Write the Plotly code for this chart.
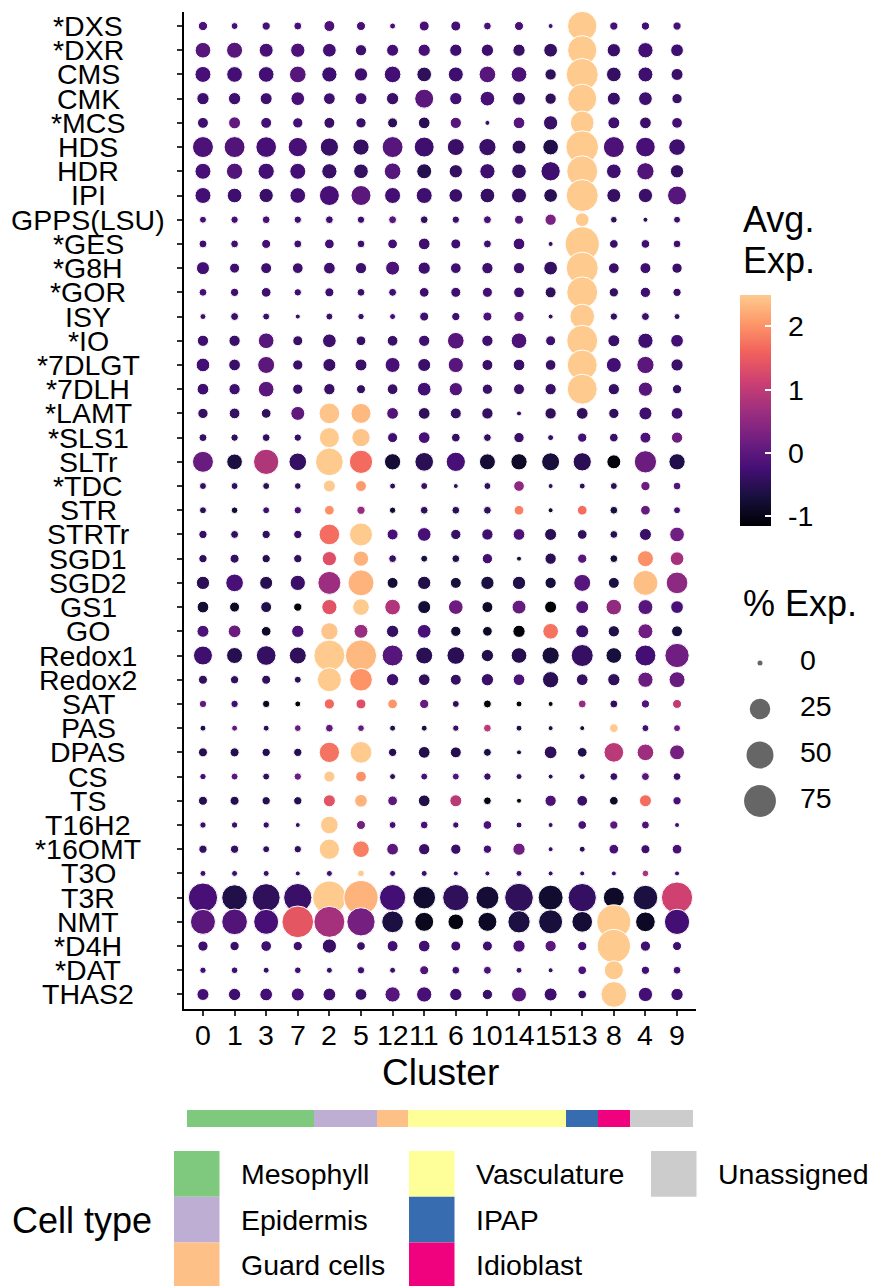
import numpy as np
import plotly.graph_objects as go

W, H = 873, 1286
FONT = "Liberation Sans, Arial, sans-serif"

GENES = ["*DXS", "*DXR", "CMS", "CMK", "*MCS", "HDS", "HDR", "IPI", "GPPS(LSU)", "*GES",
         "*G8H", "*GOR", "ISY", "*IO", "*7DLGT", "*7DLH", "*LAMT", "*SLS1", "SLTr", "*TDC",
         "STR", "STRTr", "SGD1", "SGD2", "GS1", "GO", "Redox1", "Redox2", "SAT", "PAS",
         "DPAS", "CS", "TS", "T16H2", "*16OMT", "T3O", "T3R", "NMT", "*D4H", "*DAT", "THAS2"]

CLUSTERS = ["0", "1", "3", "7", "2", "5", "12", "11", "6", "10", "14", "15", "13", "8", "4", "9"]

CELL_TYPES = ["Mesophyll", "Epidermis", "Guard cells", "Vasculature", "IPAP", "Idioblast", "Unassigned"]
CELL_TYPE_COLORS = ["#7FC97F", "#BEAED4", "#FDC086", "#FFFF99", "#386CB0", "#F0027F", "#CCCCCC"]
CLUSTER_CELL_TYPE = ["Mesophyll"] * 4 + ["Epidermis"] * 2 + ["Guard cells"] + ["Vasculature"] * 5 + \
                    ["IPAP", "Idioblast", "Unassigned", "Unassigned"]

# average (scaled) expression, one row per gene, columns follow CLUSTERS
AVG_EXP = [
    [-0.15, -0.2, -0.2, -0.2, -0.15, -0.2, -0.2, -0.2, -0.25, -0.2, -0.2, -0.25, 2.5, -0.2, -0.25, -0.2],
    [-0.05, -0.05, -0.2, -0.15, -0.25, -0.3, -0.25, -0.2, -0.3, -0.3, -0.35, -0.4, 2.5, -0.35, -0.25, -0.3],
    [-0.2, -0.25, -0.25, -0.05, -0.3, -0.3, -0.25, -0.45, -0.3, -0.05, -0.15, -0.45, 2.5, -0.4, -0.3, -0.35],
    [-0.3, -0.3, -0.3, -0.2, -0.3, -0.25, -0.35, 0.0, -0.25, -0.2, -0.35, -0.45, 2.5, -0.35, -0.3, -0.35],
    [-0.3, 0.05, -0.25, -0.25, -0.35, -0.35, -0.5, -0.5, -0.05, -0.4, -0.05, -0.35, 2.5, -0.3, -0.35, -0.25],
    [-0.15, -0.1, -0.2, -0.2, -0.35, -0.4, -0.05, -0.3, -0.35, -0.35, -0.45, -0.6, 2.5, -0.15, -0.2, -0.3],
    [-0.2, -0.1, -0.25, -0.25, -0.35, -0.4, -0.05, -0.55, -0.4, -0.3, -0.4, -0.3, 2.5, -0.3, -0.1, -0.4],
    [-0.25, -0.3, -0.35, -0.25, -0.2, 0.0, -0.25, -0.3, -0.35, -0.4, -0.4, -0.5, 2.5, -0.4, -0.35, -0.05],
    [-0.25, -0.25, -0.2, -0.3, -0.3, -0.3, -0.05, -0.45, -0.35, -0.2, -0.1, 0.3, 2.5, -0.45, -0.5, -0.35],
    [-0.3, -0.3, -0.25, -0.3, -0.25, -0.3, -0.25, -0.3, -0.3, -0.3, -0.25, -0.4, 2.5, -0.35, -0.3, -0.3],
    [-0.25, -0.3, -0.3, -0.3, -0.3, -0.3, -0.15, -0.3, -0.3, -0.3, -0.3, -0.4, 2.5, -0.35, -0.3, -0.35],
    [-0.25, -0.3, -0.3, -0.3, -0.3, -0.35, -0.3, -0.3, -0.3, -0.25, -0.3, -0.45, 2.5, -0.4, -0.3, -0.35],
    [-0.3, -0.35, -0.35, -0.35, -0.35, -0.35, -0.25, -0.3, -0.3, -0.15, -0.05, -0.4, 2.5, -0.4, -0.35, -0.4],
    [-0.3, -0.35, -0.05, -0.35, -0.3, -0.4, -0.35, -0.3, -0.05, -0.3, -0.15, -0.3, 2.5, -0.35, -0.3, -0.25],
    [-0.25, -0.35, 0.0, -0.35, -0.35, -0.35, -0.2, -0.35, -0.05, -0.35, -0.35, -0.35, 2.5, -0.25, 0.0, -0.35],
    [-0.3, -0.3, 0.0, -0.35, -0.35, -0.4, -0.35, -0.25, -0.1, -0.35, -0.35, -0.35, 2.5, -0.4, -0.05, -0.4],
    [-0.4, -0.4, -0.45, 0.05, 2.45, 2.35, -0.1, -0.45, -0.4, -0.4, -0.45, -0.45, -0.45, -0.45, -0.3, -0.3],
    [-0.4, -0.45, -0.45, -0.4, 2.5, 2.45, -0.3, -0.2, -0.4, -0.45, -0.35, -0.4, -0.25, -0.35, -0.15, 0.17],
    [0.13, -0.67, 0.85, -0.4, 2.5, 1.67, -0.76, -0.5, -0.2, -0.75, -0.85, -0.7, -0.5, -1.1, 0.15, -0.6],
    [-0.45, -0.45, -0.5, -0.45, 2.5, 2.08, -0.5, -0.4, -0.45, -0.45, 0.5, -0.45, -0.45, -0.5, 0.15, -0.1],
    [-0.5, -0.75, -0.3, -0.2, 1.99, 0.6, -0.8, -0.45, -0.5, -0.45, 1.87, -0.85, 1.7, -0.7, 0.1, -0.3],
    [-0.4, -0.45, -0.45, -0.4, 1.7, 2.5, -0.2, -0.2, -0.4, -0.3, -0.15, -0.5, -0.45, -0.55, -0.35, 0.2],
    [-0.45, -0.4, -0.55, -0.45, 1.35, 2.28, -0.4, -0.7, -0.6, -0.25, -0.75, -0.5, -0.05, -0.75, 1.99, 0.74],
    [-0.5, -0.2, -0.55, -0.35, 0.66, 2.3, -0.75, -0.6, -0.7, -0.65, -0.6, -0.7, -0.05, -0.65, 2.4, 0.5],
    [-0.75, -0.9, -0.6, -1.1, 1.4, 2.5, 0.86, -0.75, 0.17, -0.85, 0.1, -1.15, -0.1, 0.55, -0.05, -0.2],
    [-0.15, 0.15, -0.85, -0.15, 2.45, 0.62, -0.4, -0.2, -0.8, -0.9, -1.1, 1.75, -0.35, -0.6, 0.2, -0.7],
    [-0.3, -0.55, -0.4, -0.45, 2.5, 2.35, -0.05, -0.5, -0.5, -0.6, -0.55, -0.7, -0.4, -0.7, -0.25, 0.2],
    [-0.45, -0.45, -0.45, -0.5, 2.5, 2.03, -0.3, -0.45, -0.4, -0.35, -0.15, -0.5, -0.4, -0.45, 0.15, 0.1],
    [0.05, -0.3, -0.95, -1.1, 1.65, 1.35, 2.05, 0.1, -0.5, -1.1, -1.1, -1.05, 0.6, -0.45, -0.1, 1.02],
    [-0.6, 0.05, -0.5, 0.1, 0.05, 0.05, -0.6, -0.65, -0.35, 0.95, -0.6, -0.7, -0.75, 2.5, -0.3, 0.15],
    [-0.55, -0.55, -0.55, -0.55, 1.75, 2.5, -0.55, -0.6, -0.55, -0.65, -0.7, -0.45, -0.6, 0.95, 0.66, 0.25],
    [-0.25, 0.0, -0.45, 0.15, 2.5, 2.0, -0.5, -0.2, -0.1, -0.35, -0.45, -0.5, -0.45, -0.4, -0.05, -0.35],
    [-0.55, -0.55, -0.55, -0.55, 1.4, 2.3, 0.0, -0.6, 0.95, -1.05, -1.1, -0.15, -0.35, -0.85, 1.7, -0.2],
    [-0.35, -0.35, -0.35, -0.4, 2.5, 0.25, -0.25, -0.2, -0.3, -0.15, -0.35, -0.35, -0.2, 0.0, -0.15, -0.35],
    [-0.4, -0.4, -0.45, -0.45, 2.5, 1.85, 0.0, -0.35, -0.35, -0.25, 0.2, -0.4, -0.5, -0.2, -0.3, -0.2],
    [-0.3, -0.35, -0.35, -0.35, -0.3, 2.5, -0.3, -0.35, -0.3, -0.3, -0.3, -0.35, -0.35, -0.3, 0.8, -0.3],
    [-0.2, -0.6, -0.45, -0.35, 2.5, 2.3, -0.25, -0.8, -0.45, -0.75, -0.45, -0.8, -0.4, -0.85, -0.65, 1.15],
    [0.0, -0.1, -0.2, 1.44, 0.74, 0.25, -0.65, -0.95, -1.05, -0.9, -0.65, -0.7, -0.75, 2.5, -0.9, -0.25],
    [-0.3, -0.35, -0.3, -0.3, -0.35, -0.35, -0.25, -0.25, -0.3, -0.3, -0.2, 0.0, -0.25, 2.5, -0.3, -0.3],
    [-0.3, -0.3, -0.4, -0.3, -0.4, -0.3, -0.35, -0.1, -0.3, -0.15, -0.35, -0.4, -0.15, 2.5, -0.25, -0.25],
    [-0.25, -0.3, -0.25, -0.2, -0.3, -0.35, -0.05, -0.2, -0.3, -0.35, -0.05, -0.3, -0.35, 2.5, -0.25, -0.3],
]

# percent of cells expressing, one row per gene, columns follow CLUSTERS
PCT_EXP = [
    [1.9, 0.4, 1.1, 0.9, 3.7, 1.7, 0.1, 2.6, 2.6, 0.8, 1.7, 0.0, 62.0, 1.1, 1.1, 1.1],
    [11.9, 12.6, 8.4, 9.0, 7.9, 4.1, 5.1, 5.5, 5.5, 5.5, 5.5, 7.9, 61.0, 7.2, 11.0, 6.2],
    [12.6, 11.9, 11.9, 14.2, 11.0, 7.2, 14.2, 9.8, 10.4, 14.2, 11.9, 4.1, 76.0, 9.8, 10.4, 5.1],
    [5.5, 5.5, 5.1, 7.9, 4.7, 5.1, 5.5, 20.4, 5.5, 9.8, 6.7, 4.1, 60.0, 6.7, 7.9, 2.9],
    [3.7, 5.1, 3.7, 2.9, 3.7, 2.9, 2.6, 4.7, 4.1, 0.0, 4.7, 9.0, 36.4, 5.1, 4.7, 3.4],
    [26.6, 26.6, 25.6, 21.3, 18.4, 13.3, 26.6, 23.4, 15.0, 15.7, 8.4, 11.9, 79.7, 26.6, 22.5, 14.2],
    [12.6, 13.3, 13.3, 12.6, 11.0, 9.8, 14.2, 10.4, 7.2, 11.0, 9.8, 21.3, 70.3, 9.8, 15.7, 7.2],
    [12.6, 9.8, 9.0, 11.9, 23.4, 23.4, 12.6, 12.6, 7.9, 9.8, 10.4, 7.9, 76.0, 8.4, 9.0, 20.4],
    [0.4, 0.6, 0.8, 0.6, 0.8, 0.6, 0.9, 0.8, 0.6, 0.9, 1.7, 4.1, 7.9, 0.3, 0.0, 0.4],
    [0.9, 0.8, 1.7, 0.9, 2.3, 0.8, 2.3, 4.7, 2.6, 0.9, 4.7, 0.0, 89.0, 1.4, 1.4, 0.8],
    [6.7, 2.6, 3.7, 3.4, 4.7, 4.1, 8.4, 5.5, 3.4, 4.1, 4.1, 7.9, 76.0, 3.4, 3.7, 2.9],
    [0.8, 1.1, 2.3, 0.6, 1.7, 0.8, 0.9, 2.3, 2.6, 2.6, 3.4, 3.7, 70.3, 1.9, 2.9, 1.1],
    [0.1, 0.9, 0.4, 0.0, 0.4, 0.2, 0.1, 1.7, 1.1, 1.7, 2.9, 0.0, 40.4, 0.6, 0.9, 0.1],
    [4.1, 4.1, 11.9, 2.6, 7.9, 2.3, 3.4, 4.1, 14.2, 4.1, 11.9, 2.6, 70.3, 5.1, 11.0, 6.2],
    [7.9, 4.7, 15.0, 2.9, 6.7, 5.1, 10.4, 6.7, 11.0, 3.7, 4.7, 3.4, 65.0, 10.4, 15.7, 5.5],
    [4.7, 4.1, 11.9, 2.9, 4.1, 1.7, 3.4, 7.9, 7.2, 2.9, 3.7, 4.1, 65.0, 4.1, 9.0, 1.9],
    [2.9, 3.4, 2.3, 8.4, 25.6, 23.4, 4.7, 4.7, 3.7, 4.1, 0.0, 4.1, 4.7, 2.9, 6.7, 4.7],
    [0.9, 0.6, 0.8, 0.6, 23.4, 18.4, 2.6, 4.7, 1.4, 0.8, 2.9, 0.1, 1.9, 1.4, 3.7, 4.1],
    [26.6, 11.9, 42.9, 16.8, 53.6, 34.8, 13.3, 19.5, 21.3, 12.6, 13.3, 17.6, 18.4, 8.4, 31.1, 13.3],
    [0.4, 0.4, 0.4, 0.3, 5.1, 3.7, 0.1, 0.4, 0.0, 0.4, 3.4, 0.0, 0.1, 0.4, 1.9, 0.8],
    [0.4, 0.3, 0.4, 0.6, 2.3, 1.1, 0.2, 0.8, 0.8, 0.8, 2.3, 0.0, 2.3, 0.8, 2.3, 0.4],
    [1.1, 0.9, 1.1, 1.1, 25.6, 33.7, 3.7, 7.9, 2.9, 4.1, 4.7, 5.1, 2.3, 0.8, 5.1, 9.8],
    [1.1, 1.7, 1.1, 1.1, 9.0, 11.0, 0.8, 0.4, 0.8, 2.9, 0.0, 4.1, 1.9, 0.8, 12.6, 7.9],
    [7.2, 16.8, 6.7, 11.0, 33.7, 45.9, 3.7, 7.2, 3.7, 7.2, 7.2, 4.1, 15.0, 3.7, 41.6, 29.0],
    [4.7, 2.6, 3.7, 1.1, 11.0, 14.2, 11.9, 6.7, 9.8, 3.7, 8.4, 5.1, 6.7, 11.9, 10.4, 6.2],
    [5.1, 6.2, 2.3, 5.5, 15.7, 8.4, 5.5, 7.9, 2.9, 2.3, 5.5, 11.9, 6.7, 4.1, 10.4, 3.7],
    [20.4, 12.6, 22.5, 15.0, 70.3, 72.0, 26.6, 15.0, 16.8, 5.5, 11.9, 15.7, 30.1, 11.9, 26.6, 38.8],
    [1.7, 1.1, 1.7, 0.4, 37.6, 32.6, 5.5, 4.7, 3.7, 5.5, 4.7, 13.3, 4.7, 5.5, 11.0, 12.6],
    [0.6, 0.6, 0.6, 0.1, 2.9, 2.6, 2.3, 1.9, 0.4, 0.9, 0.1, 0.0, 0.9, 0.9, 1.1, 1.7],
    [0.1, 0.1, 0.1, 0.3, 0.8, 0.3, 0.1, 0.1, 0.2, 0.8, 0.1, 0.0, 0.0, 1.4, 0.4, 0.4],
    [1.7, 1.7, 1.1, 1.1, 24.4, 29.0, 1.1, 4.7, 3.7, 0.9, 0.0, 6.2, 2.3, 22.5, 14.2, 10.4],
    [0.2, 0.4, 0.4, 0.6, 3.8, 3.4, 0.1, 0.4, 0.4, 0.6, 0.1, 0.0, 0.1, 0.8, 0.9, 0.8],
    [1.7, 1.7, 1.1, 1.1, 5.1, 6.2, 2.3, 4.7, 5.1, 0.8, 0.0, 4.1, 3.4, 1.4, 5.1, 1.1],
    [0.2, 0.2, 0.2, 0.0, 16.8, 1.7, 0.4, 0.8, 0.2, 1.4, 0.1, 0.0, 1.4, 1.1, 0.9, 0.0],
    [1.1, 1.1, 0.4, 0.6, 24.4, 14.2, 4.7, 4.1, 2.9, 1.1, 5.5, 0.0, 0.1, 2.3, 1.7, 2.3],
    [0.1, 0.1, 0.1, 0.0, 0.1, 0.3, 0.1, 0.1, 0.0, 0.0, 0.1, 0.0, 0.0, 0.0, 0.3, 0.0],
    [61.4, 44.6, 55.0, 56.5, 83.3, 89.3, 47.2, 32.6, 47.2, 33.7, 58.4, 41.6, 56.5, 26.6, 40.4, 72.0],
    [41.6, 44.6, 41.6, 74.2, 70.3, 56.5, 29.0, 20.4, 11.9, 20.4, 31.1, 37.6, 25.6, 87.5, 22.5, 42.9],
    [2.9, 1.9, 3.4, 1.9, 9.0, 1.4, 3.7, 4.7, 2.6, 2.6, 5.5, 4.1, 1.9, 83.3, 2.9, 1.7],
    [0.2, 0.3, 0.1, 0.3, 0.1, 0.6, 0.1, 1.7, 0.8, 0.9, 0.1, 0.0, 1.4, 20.4, 1.1, 0.8],
    [5.1, 5.5, 6.2, 6.7, 6.2, 4.7, 11.0, 11.0, 5.5, 2.9, 10.4, 6.7, 1.4, 44.6, 9.0, 5.5],
]

SIZE_BREAKS = [0, 25, 50, 75]
COLOR_TICKS = [-1, 0, 1, 2]
COLOR_MIN, COLOR_MAX = -1.15, 2.5

# magma, truncated at ~0.9
MAGMA = ['#000004', '#180f3d', '#440f76', '#721f81', '#9e2f7f', '#cd4071', '#f1605d', '#fd9668', '#feca8d']
COLORSCALE = [[i / (len(MAGMA) - 1), c] for i, c in enumerate(MAGMA)]


def dot_size(p):
    """area-style size scale: diameter in px from percent expressed"""
    return 5 + 3.1 * np.sqrt(np.asarray(p, dtype=float))


def fx(px):
    return px / W


def fy(py):
    return 1 - py / H


# ---- layout geometry (pixels) ----
PANEL_L, PANEL_R, PANEL_T, PANEL_B = 184, 696, 11.5, 1009
BAR_T, BAR_B = 1110, 1127
CB_L, CB_T, CB_LEN, CB_THICK = 740, 294.6, 231, 31
TXT = 28.5
TITLE = 36

fig = go.Figure()

xs = [c for g in GENES for c in CLUSTERS]
ys = [g for g in GENES for c in CLUSTERS]
cols = [v for row in AVG_EXP for v in row]
pcts = [v for row in PCT_EXP for v in row]

fig.add_trace(go.Scatter(
    x=xs, y=ys, mode="markers", cliponaxis=False, showlegend=False,
    marker=dict(size=dot_size(pcts), color=cols, colorscale=COLORSCALE, opacity=1,
                cmin=COLOR_MIN, cmax=COLOR_MAX,
                line=dict(color="white", width=1),
                colorbar=dict(x=fx(CB_L), xanchor="left", xpad=0,
                              y=fy(CB_T), yanchor="top", ypad=0,
                              len=CB_LEN, lenmode="pixels",
                              thickness=CB_THICK, thicknessmode="pixels",
                              outlinewidth=0, ticks="inside", ticklen=6,
                              tickcolor="white", tickwidth=1.5,
                              tickvals=COLOR_TICKS, showticklabels=False)),
    xaxis="x", yaxis="y"))

# cell-type strip under the x axis
for ct, colr in zip(CELL_TYPES, CELL_TYPE_COLORS):
    cl = [c for c, t in zip(CLUSTERS, CLUSTER_CELL_TYPE) if t == ct]
    fig.add_trace(go.Bar(x=cl, y=[1] * len(cl), width=1, marker=dict(color=colr, line=dict(width=0)),
                         showlegend=False, xaxis="x", yaxis="y2", hoverinfo="skip"))

# size legend (pixel overlay axes)
LEG_X, LEG_Y0, LEG_DY, LEG_TX = 760, 663, 46, 800
fig.add_trace(go.Scatter(
    x=[LEG_X] * len(SIZE_BREAKS), y=[LEG_Y0 + LEG_DY * i for i in range(len(SIZE_BREAKS))],
    mode="markers", marker=dict(size=dot_size(SIZE_BREAKS), color="#666666", opacity=1, line=dict(width=0)),
    showlegend=False, xaxis="x3", yaxis="y3", hoverinfo="skip", cliponaxis=False))
fig.add_trace(go.Scatter(
    x=[LEG_TX] * len(SIZE_BREAKS), y=[LEG_Y0 + LEG_DY * i for i in range(len(SIZE_BREAKS))],
    mode="text", text=[str(b) for b in SIZE_BREAKS], textposition="middle right",
    textfont=dict(size=TXT, color="black", family=FONT),
    showlegend=False, xaxis="x3", yaxis="y3", hoverinfo="skip", cliponaxis=False))

annotations = []
# y tick labels (centred, as in the original)
for g in GENES:
    annotations.append(dict(x=fx(88), xref="paper", y=g, yref="y", text=g, showarrow=False,
                            xanchor="center", yanchor="middle",
                            font=dict(size=TXT, color="black", family=FONT)))
# x tick labels (positioned by category index, text = cluster name)
for i, c in enumerate(CLUSTERS):
    annotations.append(dict(x=i, xref="x", y=fy(1035), yref="paper", text=c, showarrow=False,
                            xanchor="center", yanchor="middle",
                            font=dict(size=TXT, color="black", family=FONT)))
annotations.append(dict(x=fx((PANEL_L + PANEL_R) / 2), y=fy(1072), xref="paper", yref="paper",
                        text="Cluster", showarrow=False, xanchor="center", yanchor="middle",
                        font=dict(size=TITLE + 1, color="black", family=FONT)))
# colour bar title and tick labels
for txt, ypx in (("Avg.", 219), ("Exp.", 261)):
    annotations.append(dict(x=fx(741), y=fy(ypx), xref="paper", yref="paper", text=txt,
                            showarrow=False, xanchor="left", yanchor="middle",
                            font=dict(size=TITLE, color="black", family=FONT)))
for v in COLOR_TICKS:
    ypx = CB_T + CB_LEN - (v - COLOR_MIN) / (COLOR_MAX - COLOR_MIN) * CB_LEN
    annotations.append(dict(x=fx(786), y=fy(ypx), xref="paper", yref="paper", text=str(v),
                            showarrow=False, xanchor="left", yanchor="middle",
                            font=dict(size=TXT, color="black", family=FONT)))
annotations.append(dict(x=fx(741), y=fy(603), xref="paper", yref="paper", text="% Exp.",
                        showarrow=False, xanchor="left", yanchor="middle",
                        font=dict(size=TITLE, color="black", family=FONT)))
# cell type legend
annotations.append(dict(x=fx(10), y=fy(1220), xref="paper", yref="paper", text="Cell type",
                        showarrow=False, xanchor="left", yanchor="middle",
                        font=dict(size=TITLE, color="black", family=FONT)))
shapes = []
COL_LEFTS = [174, 409, 651]
SW, SH, ROW_T = 45.5, 45.7, 1151
for i, (ct, colr) in enumerate(zip(CELL_TYPES, CELL_TYPE_COLORS)):
    c, r = i // 3, i % 3
    x0 = COL_LEFTS[c]
    y0 = ROW_T + SH * r
    shapes.append(dict(type="rect", xref="paper", yref="paper", x0=fx(x0), x1=fx(x0 + SW),
                       y0=fy(y0 + SH), y1=fy(y0), fillcolor=colr, line=dict(width=0), layer="above"))
    annotations.append(dict(x=fx(x0 + 65), y=fy(y0 + SH / 2), xref="paper", yref="paper", text=ct,
                            showarrow=False, xanchor="left", yanchor="middle",
                            font=dict(size=TXT, color="black", family=FONT)))

fig.update_layout(
    width=W, height=H, margin=dict(l=0, r=0, t=0, b=0),
    paper_bgcolor="white", plot_bgcolor="rgba(0,0,0,0)",
    font=dict(family=FONT, color="black"),
    xaxis=dict(domain=[fx(PANEL_L), fx(PANEL_R)], anchor="y", type="category",
               categoryorder="array", categoryarray=CLUSTERS, range=[-0.6, len(CLUSTERS) - 0.4],
               tickmode="array", tickvals=CLUSTERS,
               showgrid=False, zeroline=False, showline=True, linecolor="black", linewidth=2,
               ticks="outside", ticklen=5, tickwidth=2, tickcolor="#333333",
               showticklabels=False, fixedrange=True),
    yaxis=dict(domain=[fy(PANEL_B), fy(PANEL_T)], anchor="x", type="category",
               categoryorder="array", categoryarray=GENES, range=[len(GENES) - 0.4, -0.6],
               tickmode="array", tickvals=GENES,
               showgrid=False, zeroline=False, showline=True, linecolor="black", linewidth=2,
               ticks="outside", ticklen=5, tickwidth=2, tickcolor="#333333",
               showticklabels=False, fixedrange=True),
    yaxis2=dict(domain=[fy(BAR_B), fy(BAR_T)], anchor="x", range=[0, 1], visible=False, fixedrange=True),
    xaxis3=dict(domain=[0, 1], anchor="y3", range=[0, W], visible=False, fixedrange=True),
    yaxis3=dict(domain=[0, 1], anchor="x3", range=[H, 0], visible=False, fixedrange=True),
    annotations=annotations, shapes=shapes, bargap=0,
)

fig.write_html("out.html")
